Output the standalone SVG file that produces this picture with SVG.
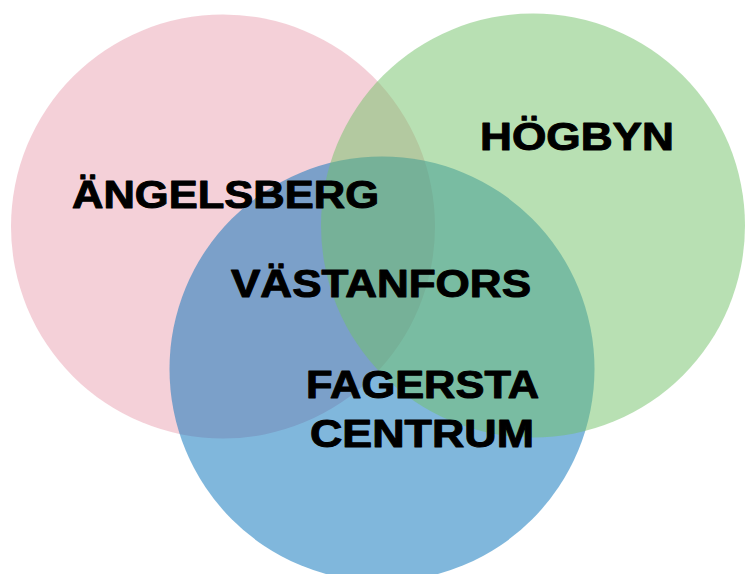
<svg xmlns="http://www.w3.org/2000/svg" width="745" height="574" viewBox="0 0 745 574">
<style>
.c{stroke:none}
.t{font-family:"Liberation Sans",Arial,sans-serif;font-weight:bold;font-size:38px;fill:#000;stroke:#000;stroke-width:1;stroke-linejoin:round}
</style>
<rect width="745" height="574" fill="#fff"/>
<g id="angelsberg">
<circle class="c" cx="223" cy="226.5" r="212" fill="rgb(233,161,177)" fill-opacity="0.5"/>
</g>
<g id="fagersta">
<circle class="c" cx="382" cy="369" r="212.5" fill="rgb(1,111,185)" fill-opacity="0.5"/>
</g>
<g id="hogbyn">
<circle class="c" cx="533" cy="225.5" r="212" fill="rgb(113,193,103)" fill-opacity="0.5"/>
</g>
<g id="labels">
<text class="t" x="72" y="208" textLength="307" lengthAdjust="spacingAndGlyphs">ÄNGELSBERG</text>
<text class="t" x="480" y="150" textLength="194" lengthAdjust="spacingAndGlyphs">HÖGBYN</text>
<text class="t" x="231" y="297" textLength="300" lengthAdjust="spacingAndGlyphs">VÄSTANFORS</text>
<text class="t" x="306" y="398" textLength="233" lengthAdjust="spacingAndGlyphs">FAGERSTA</text>
<text class="t" x="310" y="447" textLength="224" lengthAdjust="spacingAndGlyphs">CENTRUM</text>
</g>
</svg>
